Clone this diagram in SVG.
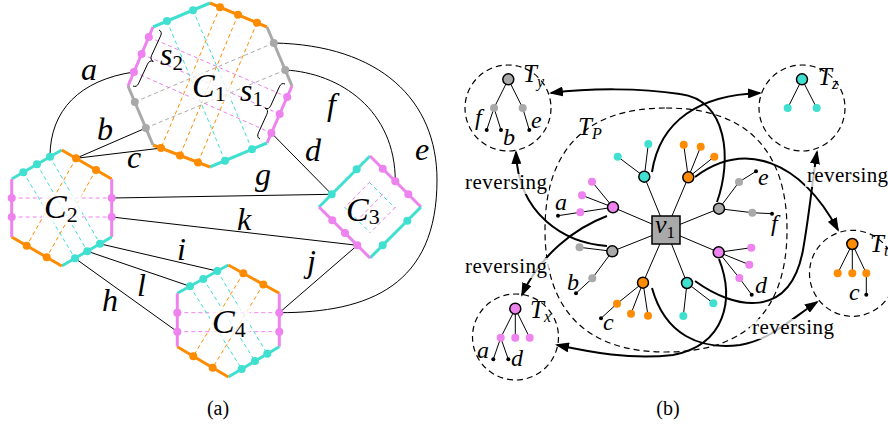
<svg xmlns="http://www.w3.org/2000/svg" width="888" height="424" viewBox="0 0 888 424">
<defs>
<style>
.m{font-family:"Liberation Serif","DejaVu Serif","Noto Serif",serif;font-style:italic;fill:#000}
.r{font-family:"Liberation Serif","DejaVu Serif","Noto Serif",serif;fill:#000}
.up{font-style:normal}
.e{stroke:#000;stroke-width:1;fill:none}
.cy{stroke:#40E0D0}.or{stroke:#FF8C00}.pk{stroke:#EE82EE}.gy{stroke:#A9A9A9}
.side{stroke-width:3;fill:none}
.dl{stroke-width:1;stroke-dasharray:4 3;fill:none}
.fc{fill:#40E0D0}.fo{fill:#FF8C00}.fp{fill:#EE82EE}.fg{fill:#A9A9A9}
.nd{stroke:#000;stroke-width:1.5}
.lf{stroke:#000;stroke-width:1;fill:none}
.bk{fill:#000}
.dc{fill:none;stroke:#000;stroke-width:1.2;stroke-dasharray:6 4}
.ar{fill:none;stroke:#000;stroke-width:2;marker-end:url(#ah)}
.lb{fill:#fff;opacity:.75}
</style>
<marker id="ah" viewBox="0 0 14 10" markerWidth="14" markerHeight="10" refX="12" refY="5" orient="auto" markerUnits="userSpaceOnUse">
<path d="M0,0 L14,5 L0,10 z" fill="#000"/>
</marker>
</defs>

<!-- ===== (a) ===== -->
<g id="edges-a">
<path class="e" d="M133.9,72 C80,80 50,110 50,156.8"/>
<line class="e" x1="145.8" y1="128" x2="76" y2="158.3"/>
<line class="e" x1="161" y1="148.1" x2="76" y2="158.3"/>
<line class="e" x1="271.4" y1="133" x2="331.7" y2="194.3"/>
<path class="e" d="M285.2,70 C340,73 395.3,110 395.3,181.3"/>
<path class="e" d="M273.8,43 C380,45 437,100 437,180 C437,285 370,312.7 279.3,312.7"/>
<line class="e" x1="111.7" y1="198" x2="331.7" y2="194.3"/>
<line class="e" x1="111.7" y1="217" x2="357.3" y2="245.3"/>
<line class="e" x1="100" y1="243.8" x2="217.3" y2="271.1"/>
<line class="e" x1="87.3" y1="251.2" x2="190" y2="286.3"/>
<line class="e" x1="75" y1="258.3" x2="177.3" y2="331.7"/>
<line class="e" x1="357.3" y1="245.3" x2="279.3" y2="312.7"/>
</g>
<g id="edge-labels-a" font-size="32" font-family="Liberation Serif, DejaVu Serif, serif">
<text class="m" x="81" y="80">a</text>
<text class="m" x="97" y="140">b</text>
<text class="m" x="127" y="168">c</text>
<text class="m" x="305" y="161">d</text>
<text class="m" x="327" y="115">f</text>
<text class="m" x="415" y="160">e</text>
<text class="m" x="255" y="185">g</text>
<text class="m" x="237" y="230">k</text>
<text class="m" x="177" y="260">i</text>
<text class="m" x="137" y="296">l</text>
<text class="m" x="102" y="311">h</text>
<text class="m" x="307" y="272">j</text>
</g>

<g id="C1">
<g class="dl">
<line class="pk" x1="148.8" y1="37" x2="287.2" y2="97"/>
<line class="pk" x1="141.6" y1="54" x2="279.7" y2="114"/>
<line class="pk" x1="133.9" y1="72" x2="271.4" y2="133"/>
<line class="gy" x1="134.8" y1="102" x2="273.8" y2="43"/>
<line class="gy" x1="145.8" y1="128" x2="285.2" y2="70"/>
<line class="cy" x1="167" y1="21.1" x2="225" y2="160.7"/>
<line class="cy" x1="193" y1="10.2" x2="252" y2="149.3"/>
<line class="or" x1="220" y1="7.2" x2="161" y2="148.1"/>
<line class="or" x1="238" y1="14.8" x2="180" y2="155.4"/>
<line class="or" x1="257" y1="22.8" x2="198" y2="162.4"/>
</g>
<g class="side">
<line class="cy" x1="153" y1="27" x2="210" y2="3"/>
<line class="or" x1="210" y1="3" x2="267" y2="27"/>
<line class="gy" x1="267" y1="27" x2="292" y2="86"/>
<line class="pk" x1="292" y1="86" x2="267" y2="143"/>
<line class="cy" x1="267" y1="143" x2="210" y2="167"/>
<line class="or" x1="210" y1="167" x2="153" y2="145"/>
<line class="gy" x1="153" y1="145" x2="128" y2="86"/>
<line class="pk" x1="128" y1="86" x2="153" y2="27"/>
</g>
<circle class="fc" cx="167" cy="21.1" r="4"/><circle class="fc" cx="193" cy="10.2" r="4"/>
<circle class="fo" cx="220" cy="7.2" r="4"/><circle class="fo" cx="238" cy="14.8" r="4"/><circle class="fo" cx="257" cy="22.8" r="4"/>
<circle class="fg" cx="273.8" cy="43" r="4"/><circle class="fg" cx="285.2" cy="70" r="4"/>
<circle class="fp" cx="287.2" cy="97" r="4"/><circle class="fp" cx="279.7" cy="114" r="4"/><circle class="fp" cx="271.4" cy="133" r="4"/>
<circle class="fc" cx="252" cy="149.3" r="4"/><circle class="fc" cx="225" cy="160.7" r="4"/>
<circle class="fo" cx="161" cy="148.1" r="4"/><circle class="fo" cx="180" cy="155.4" r="4"/><circle class="fo" cx="198" cy="162.4" r="4"/>
<circle class="fg" cx="145.8" cy="128" r="4"/><circle class="fg" cx="134.8" cy="102" r="4"/>
<circle class="fp" cx="148.8" cy="37" r="4"/><circle class="fp" cx="141.6" cy="54" r="4"/><circle class="fp" cx="133.9" cy="72" r="4"/>
<path class="e" d="M159,30 Q162.6,31.7 160.5,36.2 L151.7,55.2 Q149.6,59.7 153.3,61.4 Q149.6,59.7 147.5,64.2 L138.7,83.2 Q136.6,87.7 133,86"/>
<path class="e" d="M285,84 Q281.4,82.3 279.3,86.9 L270.9,105.3 Q268.9,109.8 265.2,108.2 Q268.9,109.8 266.8,114.4 L258.4,132.8 Q256.4,137.3 260,139"/>
<rect class="lb" x="190" y="72" width="40" height="30" rx="4"/>
<text class="m" x="192" y="97" font-size="34" font-family="Liberation Serif, DejaVu Serif, serif">C<tspan class="up" font-size="22" dy="4">1</tspan></text>
<text class="m" x="160" y="65" font-size="32" font-family="Liberation Serif, DejaVu Serif, serif">s<tspan class="up" font-size="21" dy="5">2</tspan></text>
<text class="m" x="240" y="101" font-size="32" font-family="Liberation Serif, DejaVu Serif, serif">s<tspan class="up" font-size="21" dy="5">1</tspan></text>
</g>

<g id="C2">
<g class="dl">
<line class="pk" x1="11.7" y1="198" x2="111.7" y2="198"/>
<line class="pk" x1="11.7" y1="217" x2="111.7" y2="217"/>
<line class="or" x1="76" y1="158.3" x2="26.7" y2="245.7"/>
<line class="or" x1="96" y1="169.9" x2="46.7" y2="257.3"/>
<line class="cy" x1="23.3" y1="172.3" x2="75" y2="258.3"/>
<line class="cy" x1="37" y1="164.3" x2="87.3" y2="251.2"/>
<line class="cy" x1="50" y1="156.8" x2="100" y2="243.8"/>
</g>
<g class="side">
<line class="cy" x1="11.7" y1="179" x2="61.7" y2="150"/>
<line class="or" x1="61.7" y1="150" x2="111.7" y2="179"/>
<line class="pk" x1="111.7" y1="179" x2="111.7" y2="237"/>
<line class="cy" x1="111.7" y1="237" x2="61.7" y2="266"/>
<line class="or" x1="61.7" y1="266" x2="11.7" y2="237"/>
<line class="pk" x1="11.7" y1="237" x2="11.7" y2="179"/>
</g>
<circle class="fc" cx="23.3" cy="172.3" r="4"/><circle class="fc" cx="37" cy="164.3" r="4"/><circle class="fc" cx="50" cy="156.8" r="4"/>
<circle class="fo" cx="76" cy="158.3" r="4"/><circle class="fo" cx="96" cy="169.9" r="4"/>
<circle class="fp" cx="111.7" cy="198" r="4"/><circle class="fp" cx="111.7" cy="217" r="4"/>
<circle class="fp" cx="11.7" cy="198" r="4"/><circle class="fp" cx="11.7" cy="217" r="4"/>
<circle class="fo" cx="26.7" cy="245.7" r="4"/><circle class="fo" cx="46.7" cy="257.3" r="4"/>
<circle class="fc" cx="75" cy="258.3" r="4"/><circle class="fc" cx="87.3" cy="251.2" r="4"/><circle class="fc" cx="100" cy="243.8" r="4"/>
<rect class="lb" x="42" y="193" width="40" height="30" rx="4"/>
<text class="m" x="44" y="218" font-size="34" font-family="Liberation Serif, DejaVu Serif, serif">C<tspan class="up" font-size="22" dy="4">2</tspan></text>
</g>

<g id="C3">
<g class="dl" stroke-dasharray="3 5">
<line class="cy" x1="344.5" y1="207" x2="369.9" y2="232.6"/>
<line class="cy" x1="369.3" y1="182.2" x2="394.7" y2="207.8"/>
<line class="pk" x1="370.1" y1="181.6" x2="344.9" y2="207.4"/>
<line class="pk" x1="382.7" y1="194.2" x2="357.6" y2="220.1"/>
<line class="pk" x1="395.6" y1="207.1" x2="370.1" y2="232.6"/>
</g>
<g class="side">
<line class="cy" x1="319" y1="207" x2="370" y2="156"/>
<line class="pk" x1="370" y1="156" x2="421" y2="207"/>
<line class="cy" x1="421" y1="207" x2="370" y2="258"/>
<line class="pk" x1="370" y1="258" x2="319" y2="207"/>
</g>
<circle class="fc" cx="331.7" cy="194.3" r="4"/><circle class="fc" cx="356.7" cy="169.3" r="4"/>
<circle class="fp" cx="382.7" cy="168.7" r="4"/><circle class="fp" cx="395.3" cy="181.3" r="4"/><circle class="fp" cx="408.3" cy="194.3" r="4"/>
<circle class="fc" cx="407.3" cy="220.7" r="4"/><circle class="fc" cx="382.7" cy="245.3" r="4"/>
<circle class="fp" cx="332.3" cy="220.3" r="4"/><circle class="fp" cx="345" cy="233" r="4"/><circle class="fp" cx="357.3" cy="245.3" r="4"/>
<text class="m" x="346" y="221" font-size="34" font-family="Liberation Serif, DejaVu Serif, serif">C<tspan class="up" font-size="22" dy="3">3</tspan></text>
</g>

<g id="C4">
<g class="dl">
<line class="pk" x1="177.3" y1="312.7" x2="279.3" y2="312.7"/>
<line class="pk" x1="177.3" y1="331.7" x2="279.3" y2="331.7"/>
<line class="or" x1="243.3" y1="273.3" x2="193.3" y2="356.2"/>
<line class="or" x1="263.3" y1="284.4" x2="212.7" y2="367.7"/>
<line class="cy" x1="190" y1="286.3" x2="241.7" y2="369"/>
<line class="cy" x1="203.3" y1="278.9" x2="255" y2="361.1"/>
<line class="cy" x1="217.3" y1="271.1" x2="267.3" y2="353.8"/>
</g>
<g class="side">
<line class="cy" x1="177.3" y1="293.3" x2="228.3" y2="265"/>
<line class="or" x1="228.3" y1="265" x2="279.3" y2="293.3"/>
<line class="pk" x1="279.3" y1="293.3" x2="279.3" y2="346.7"/>
<line class="cy" x1="279.3" y1="346.7" x2="228.3" y2="377"/>
<line class="or" x1="228.3" y1="377" x2="177.3" y2="346.7"/>
<line class="pk" x1="177.3" y1="346.7" x2="177.3" y2="293.3"/>
</g>
<circle class="fc" cx="190" cy="286.3" r="4"/><circle class="fc" cx="203.3" cy="278.9" r="4"/><circle class="fc" cx="217.3" cy="271.1" r="4"/>
<circle class="fo" cx="243.3" cy="273.3" r="4"/><circle class="fo" cx="263.3" cy="284.4" r="4"/>
<circle class="fp" cx="279.3" cy="312.7" r="4"/><circle class="fp" cx="279.3" cy="331.7" r="4"/>
<circle class="fp" cx="177.3" cy="312.7" r="4"/><circle class="fp" cx="177.3" cy="331.7" r="4"/>
<circle class="fo" cx="193.3" cy="356.2" r="4"/><circle class="fo" cx="212.7" cy="367.7" r="4"/>
<circle class="fc" cx="267.3" cy="353.8" r="4"/><circle class="fc" cx="255" cy="361.1" r="4"/><circle class="fc" cx="241.7" cy="369" r="4"/>
<rect class="lb" x="210" y="307" width="40" height="30" rx="4"/>
<text class="m" x="212" y="333" font-size="34" font-family="Liberation Serif, DejaVu Serif, serif">C<tspan class="up" font-size="22" dy="4">4</tspan></text>
</g>
<text class="r" x="218" y="415" font-size="20" text-anchor="middle" font-family="Liberation Serif, DejaVu Serif, serif">(a)</text>

<!-- ===== (b) ===== -->
<g id="TP">
<path class="dc" d="M666,108 C745.9,108 787,149.5 787,230 C787,310.5 745.9,352 666,352 C586.1,352 545,310.5 545,230 C545,149.5 586.1,108 666,108 Z"/>
<text class="m" x="578" y="135" font-size="25" font-family="Liberation Serif, DejaVu Serif, serif">T<tspan font-size="16" dy="4">P</tspan></text>
</g>

<g id="tree-v1">
<g class="lf">
<line x1="666" y1="230" x2="644.3" y2="176.7"/><line x1="666" y1="230" x2="688.3" y2="177.3"/>
<line x1="666" y1="230" x2="719" y2="208.7"/><line x1="666" y1="230" x2="718.7" y2="252.3"/>
<line x1="666" y1="230" x2="687" y2="283"/><line x1="666" y1="230" x2="643" y2="282.7"/>
<line x1="666" y1="230" x2="612.3" y2="251.3"/><line x1="666" y1="230" x2="613" y2="207.3"/>
<line x1="644.3" y1="176.7" x2="648.3" y2="144"/><line x1="644.3" y1="176.7" x2="617.7" y2="156.7"/>
<line x1="688.3" y1="177.3" x2="683.7" y2="144.7"/><line x1="688.3" y1="177.3" x2="700.7" y2="146.7"/><line x1="688.3" y1="177.3" x2="714.3" y2="156.7"/>
<polyline points="719,208.7 739,182 756,171.3"/><polyline points="719,208.7 752.3,212.7 772,213.7"/>
<line x1="718.7" y1="252.3" x2="751.3" y2="247.7"/><line x1="718.7" y1="252.3" x2="749.3" y2="264.7"/><polyline points="718.7,252.3 739.3,278 751.7,294.7"/>
<line x1="687" y1="283" x2="713.3" y2="303.3"/><line x1="687" y1="283" x2="683.3" y2="316"/>
<polyline points="643,282.7 617,303.7 601,318.3"/><line x1="643" y1="282.7" x2="631" y2="313.7"/><line x1="643" y1="282.7" x2="648" y2="315.7"/>
<line x1="612.3" y1="251.3" x2="579.5" y2="247.3"/><polyline points="612.3,251.3 592.3,278.3 576,293.3"/>
<line x1="613" y1="207.3" x2="592" y2="181.7"/><line x1="613" y1="207.3" x2="582" y2="195.3"/><polyline points="613,207.3 580.3,212.3 558,215.7"/>
</g>
<circle class="fc" cx="648.3" cy="144" r="4"/><circle class="fc" cx="617.7" cy="156.7" r="4"/>
<circle class="fo" cx="683.7" cy="144.7" r="4"/><circle class="fo" cx="700.7" cy="146.7" r="4"/><circle class="fo" cx="714.3" cy="156.7" r="4"/>
<circle class="fg" cx="739" cy="182" r="4"/><circle class="fg" cx="752.3" cy="212.7" r="4"/>
<circle class="fp" cx="751.3" cy="247.7" r="4"/><circle class="fp" cx="749.3" cy="264.7" r="4"/><circle class="fp" cx="739.3" cy="278" r="4"/>
<circle class="fc" cx="713.3" cy="303.3" r="4"/><circle class="fc" cx="683.3" cy="316" r="4"/>
<circle class="fo" cx="617" cy="303.7" r="4"/><circle class="fo" cx="631" cy="313.7" r="4"/><circle class="fo" cx="648" cy="315.7" r="4"/>
<circle class="fg" cx="579.5" cy="247.3" r="4"/><circle class="fg" cx="592.3" cy="278.3" r="4"/>
<circle class="fp" cx="592" cy="181.7" r="4"/><circle class="fp" cx="582" cy="195.3" r="4"/><circle class="fp" cx="580.3" cy="212.3" r="4"/>
<circle class="bk" cx="756" cy="171.3" r="2"/><circle class="bk" cx="772" cy="213.7" r="2"/><circle class="bk" cx="751.7" cy="294.7" r="2"/>
<circle class="bk" cx="601" cy="318.3" r="2"/><circle class="bk" cx="576" cy="293.3" r="2"/><circle class="bk" cx="558" cy="215.7" r="2"/>
<circle class="fc nd" cx="644.3" cy="176.7" r="5.5"/><circle class="fo nd" cx="688.3" cy="177.3" r="5.5"/>
<circle class="fg nd" cx="719" cy="208.7" r="5.5"/><circle class="fp nd" cx="718.7" cy="252.3" r="5.5"/>
<circle class="fc nd" cx="687" cy="283" r="5.5"/><circle class="fo nd" cx="643" cy="282.7" r="5.5"/>
<circle class="fg nd" cx="612.3" cy="251.3" r="5.5"/><circle class="fp nd" cx="613" cy="207.3" r="5.5"/>
<g font-size="24" font-family="Liberation Serif, DejaVu Serif, serif">
<text class="m" x="555" y="210">a</text>
<text class="m" x="567" y="290">b</text>
<text class="m" x="603" y="330">c</text>
<text class="m" x="755" y="293">d</text>
<text class="m" x="758" y="185">e</text>
<text class="m" x="771" y="231">f</text>
</g>
</g>
<g id="v1">
<rect x="652" y="216" width="28" height="28" fill="#A9A9A9" stroke="#000" stroke-width="1.5"/>
<text class="m" x="655" y="233" font-size="26" font-family="Liberation Serif, DejaVu Serif, serif">v<tspan class="up" font-size="17" dy="5">1</tspan></text>
</g>

<g id="Ty">
<circle class="dc" cx="508" cy="108" r="43"/>
<g class="lf"><line x1="508.3" y1="79.3" x2="494" y2="108"/><line x1="508.3" y1="79.3" x2="522.7" y2="108"/>
<line x1="494" y1="108" x2="486.7" y2="130"/><line x1="494" y1="108" x2="501" y2="130"/><line x1="522.7" y1="108" x2="529.3" y2="130"/></g>
<circle class="fg" cx="494" cy="108" r="4"/><circle class="fg" cx="522.7" cy="108" r="4"/>
<circle class="bk" cx="486.7" cy="130" r="2"/><circle class="bk" cx="501" cy="130" r="2"/><circle class="bk" cx="529.3" cy="130" r="2"/>
<circle class="fg nd" cx="508.3" cy="79.3" r="5.5"/>
<text class="m" x="523" y="82" font-size="25" font-family="Liberation Serif, DejaVu Serif, serif">T<tspan font-size="16" dy="5">y</tspan></text>
<g font-size="24" font-family="Liberation Serif, DejaVu Serif, serif"><text class="m" x="475" y="125">f</text><text class="m" x="503" y="145">b</text><text class="m" x="531" y="128">e</text></g>
</g>

<g id="Tz">
<circle class="dc" cx="802" cy="108" r="43"/>
<g class="lf"><line x1="802" y1="79.3" x2="787.7" y2="108"/><line x1="802" y1="79.3" x2="816.7" y2="108"/></g>
<circle class="fc" cx="787.7" cy="108" r="4"/><circle class="fc" cx="816.7" cy="108" r="4"/>
<circle class="fc nd" cx="802" cy="79.3" r="5.5"/>
<text class="m" x="818" y="85" font-size="25" font-family="Liberation Serif, DejaVu Serif, serif">T<tspan font-size="16" dy="4">z</tspan></text>
</g>

<g id="Tt">
<circle class="dc" cx="852.5" cy="273.3" r="43"/>
<g class="lf"><line x1="852.3" y1="244" x2="837.7" y2="273.3"/><line x1="852.3" y1="244" x2="852.3" y2="273.3"/><line x1="852.3" y1="244" x2="866.3" y2="273.3"/><line x1="866.3" y1="273.3" x2="866.3" y2="294.7"/></g>
<circle class="fo" cx="837.7" cy="273.3" r="4"/><circle class="fo" cx="852.3" cy="273.3" r="4"/><circle class="fo" cx="866.3" cy="273.3" r="4"/>
<circle class="bk" cx="866.3" cy="294.7" r="2"/>
<circle class="fo nd" cx="852.3" cy="244" r="5.5"/>
<text class="m" x="870" y="252" font-size="25" font-family="Liberation Serif, DejaVu Serif, serif">T<tspan font-size="16" dy="4">t</tspan></text>
<text class="m" x="849" y="300" font-size="24" font-family="Liberation Serif, DejaVu Serif, serif">c</text>
</g>

<g id="Tx">
<circle class="dc" cx="515.5" cy="337" r="43"/>
<g class="lf"><line x1="515.3" y1="308.7" x2="500.7" y2="337.7"/><line x1="515.3" y1="308.7" x2="515.3" y2="337.7"/><line x1="515.3" y1="308.7" x2="529.7" y2="337.7"/>
<line x1="500.7" y1="337.7" x2="493.3" y2="359.3"/><line x1="500.7" y1="337.7" x2="508.3" y2="359.3"/></g>
<circle class="fp" cx="500.7" cy="337.7" r="4"/><circle class="fp" cx="515.3" cy="337.7" r="4"/><circle class="fp" cx="529.7" cy="337.7" r="4"/>
<circle class="bk" cx="493.3" cy="359.3" r="2"/><circle class="bk" cx="508.3" cy="359.3" r="2"/>
<circle class="fp nd" cx="515.3" cy="308.7" r="5.5"/>
<text class="m" x="530" y="318" font-size="25" font-family="Liberation Serif, DejaVu Serif, serif">T<tspan font-size="16" dy="4">x</tspan></text>
<g font-size="24" font-family="Liberation Serif, DejaVu Serif, serif"><text class="m" x="477" y="358">a</text><text class="m" x="511" y="366">d</text></g>
</g>

<g id="arrows">
<path class="ar" d="M607,246 C565,243 518,215 516,152"/>
<path class="ar" d="M607,216 C575,228 540,255 522,295"/>
<path class="ar" d="M652,172 C660,120 700,95 760,93"/>
<path class="ar" d="M717,202 C732,160 728,100 680,94 C640,88 590,88 551,93"/>
<path class="ar" d="M695,177 C745,140 800,160 838,230"/>
<path class="ar" d="M695,281 C735,310 790,320 803,250 C810,210 813,175 817,152"/>
<path class="ar" d="M719,259 C735,300 725,345 673,355 C630,360 590,352 557,345"/>
<path class="ar" d="M652,288 C665,335 700,350 740,345 C770,340 790,320 817,302"/>
</g>

<g id="reversing-labels" font-size="21" font-family="Liberation Serif, DejaVu Serif, serif">
<rect class="lb" x="463" y="174" width="86" height="20"/>
<text class="r" x="465" y="189" textLength="82">reversing</text>
<rect class="lb" x="463" y="258" width="86" height="20"/>
<text class="r" x="465" y="273" textLength="82">reversing</text>
<rect class="lb" x="805" y="167" width="83" height="20"/>
<text class="r" x="807" y="182" textLength="81">reversing</text>
<rect class="lb" x="750" y="319" width="86" height="20"/>
<text class="r" x="752" y="334" textLength="82">reversing</text>
</g>
<text class="r" x="668" y="415" font-size="20" text-anchor="middle" font-family="Liberation Serif, DejaVu Serif, serif">(b)</text>
</svg>
